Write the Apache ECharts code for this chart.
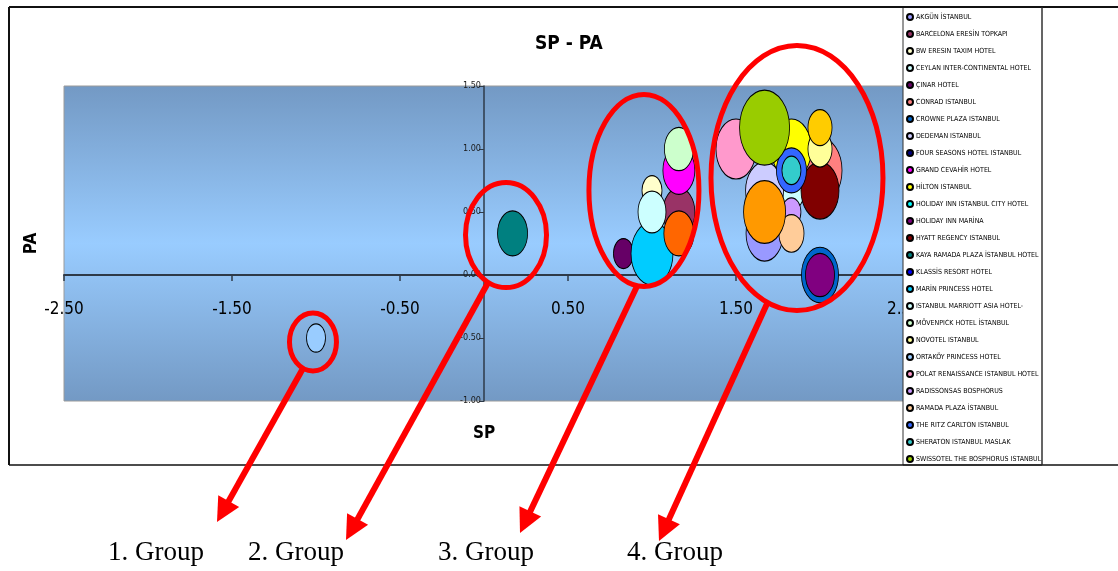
<!DOCTYPE html>
<html>
<head>
<meta charset="utf-8">
<title>SP - PA</title>
<script src="https://cdn.jsdelivr.net/npm/echarts@6/dist/echarts.min.js"></script>
<style>
  html, body { margin: 0; padding: 0; background: #fff; }
  #chart { width: 1118px; height: 571px; }
</style>
</head>
<body>
<div id="chart"></div>
<script>
// Hotels in series order (the legend lists the first 27)
const hotels = [
  'AKGÜN İSTANBUL', 'BARCELONA ERESİN TOPKAPI', 'BW ERESIN TAXIM HOTEL',
  'CEYLAN INTER-CONTINENTAL HOTEL', 'ÇINAR HOTEL', 'CONRAD ISTANBUL',
  'CROWNE PLAZA ISTANBUL', 'DEDEMAN ISTANBUL', 'FOUR SEASONS HOTEL ISTANBUL',
  'GRAND CEVAHİR HOTEL', 'HİLTON ISTANBUL', 'HOLIDAY INN ISTANBUL CITY HOTEL',
  'HOLIDAY INN MARİNA', 'HYATT REGENCY ISTANBUL', 'KAYA RAMADA PLAZA İSTANBUL HOTEL',
  'KLASSİS RESORT HOTEL', 'MARİN PRINCESS HOTEL', 'ISTANBUL MARRIOTT ASIA HOTEL-',
  'MÖVENPICK HOTEL İSTANBUL', 'NOVOTEL ISTANBUL', 'ORTAKÖY PRINCESS HOTEL',
  'POLAT RENAISSANCE ISTANBUL HOTEL', 'RADISSONSAS BOSPHORUS', 'RAMADA PLAZA İSTANBUL',
  'THE RITZ CARLTON ISTANBUL', 'SHERATON ISTANBUL MASLAK', 'SWISSOTEL THE BOSPHORUS ISTANBUL',
  'HOTEL 28', 'HOTEL 29', 'HOTEL 30'
];
const legendCount = 27;

// SP (x), PA (y) and bubble size per hotel
const spValues = [
  1.67, 1.16, 1.00, 1.83, 0.83, 2.00, 2.00, 1.67, 1.67, 1.16,
  1.83, 1.67, 2.00, 2.00, 0.17, 1.67, 1.00, 1.00, 1.16, 2.00,
  -1.00, 1.50, 1.83, 1.83, 1.83, 1.83, 1.67, 2.00, 1.67, 1.16
];
const paValues = [
  0.33, 0.50, 0.67, 0.67, 0.17, 0.83, 0.00, 0.67, 1.17, 0.83,
  1.00, 1.17, 0.00, 0.67, 0.33, 1.17, 0.17, 0.50, 1.00, 1.00,
  -0.50, 1.00, 0.50, 0.33, 0.83, 0.83, 1.17, 1.17, 0.50, 0.33
];
const bubbleSizes = [
  13.7, 10.2, 4.0, 6.8, 4.0, 19.4, 13.7, 14.4, 4.0, 10.2,
  16.0, 3.2, 8.4, 14.4, 9.0, 4.0, 17.6, 7.8, 8.4, 5.8,
  3.6, 16.0, 3.6, 6.3, 9.0, 3.6, 25.0, 5.8, 17.6, 9.0
];

// Axis ticks
const xTickValues = [-2.5, -1.5, -0.5, 0.5, 1.5, 2.5];
const xMin = -2.5, xMax = 2.5;
const yMin = -1, yMax = 1.5, yStep = 0.5;

// Group annotations: ellipse centre in SP/PA units, label text
const groupLabels = ['1. Group', '2. Group', '3. Group', '4. Group'];
const groupCentersSP = [-1.018, 0.131, 0.952, 1.863];
const groupCentersPA = [-0.532, 0.317, 0.671, 0.770];

// ---- styling ----
const palette = [
  '#9999FF', '#993366', '#FFFFCC', '#CCFFFF', '#660066', '#FF8080', '#0066CC', '#CCCCFF',
  '#000080', '#FF00FF', '#FFFF00', '#00FFFF', '#800080', '#800000', '#008080', '#0000FF',
  '#00CCFF', '#CCFFFF', '#CCFFCC', '#FFFF99', '#99CCFF', '#FF99CC', '#CC99FF', '#FFCC99',
  '#3366FF', '#33CCCC', '#99CC00', '#FFCC00', '#FF9900', '#FF6600'
];
const NARROW = "'Liberation Sans Narrow', 'Arial Narrow', 'DejaVu Sans Condensed', sans-serif";
const SERIF = "'Liberation Serif', 'Times New Roman', serif";
const bubbleScale = 10;    // px of width per sqrt(size)
const bubbleAspect = 1.5;  // bubbles are drawn taller than wide

const gridBox = { left: 64, top: 86, width: 840, height: 315 };

const groupShapes = [
  { rx: 23.5, ry: 29, start: 115, tip: [217, 522], labelX: 108 },
  { rx: 40.5, ry: 52.5, start: 116, tip: [346, 540], labelX: 248 },
  { rx: 55, ry: 96, start: 97, tip: [520, 533], labelX: 438 },
  { rx: 86, ry: 132.5, start: 110, tip: [659, 541], labelX: 627 }
];

const chart = echarts.init(document.getElementById('chart'), null, { renderer: 'canvas' });

const series = hotels.map((name, i) => ({
  name: name,
  type: 'scatter',
  data: [[spValues[i], paValues[i], bubbleSizes[i]]],
  symbol: 'circle',
  symbolSize: function (v) {
    const d = Math.sqrt(v[2]) * bubbleScale;
    return [d, d * bubbleAspect];
  },
  itemStyle: { color: palette[i], borderColor: '#000', borderWidth: 1, opacity: 1 },
  emphasis: { disabled: true },
  silent: true,
  z: 2
}));

// The axes cross at (0, 0): move each axis from its grid edge onto the zero line
const xAxisOffset = -gridBox.height * (0 - yMin) / (yMax - yMin);
const yAxisOffset = -gridBox.width * (0 - xMin) / (xMax - xMin);

chart.setOption({
  animation: false,
  backgroundColor: '#fff',
  title: {
    text: 'SP - PA',
    left: 530,
    top: 30,
    textStyle: { fontFamily: NARROW, fontSize: 19, fontWeight: 'bold', color: '#000' }
  },
  legend: {
    data: hotels.slice(0, legendCount),
    orient: 'vertical',
    left: 906,
    top: 13,
    z: 6,
    icon: 'circle',
    itemWidth: 6,
    itemHeight: 6,
    itemGap: 9,
    selectedMode: false,
    padding: 0,
    textStyle: { fontFamily: NARROW, fontSize: 7, color: '#000', lineHeight: 6, padding: [0, 0, 0, -2] }
  },
  grid: Object.assign({
    containLabel: false,
    outerBoundsMode: 'none',
    show: true,
    borderColor: '#9a9a9a',
    borderWidth: 1,
    backgroundColor: {
      type: 'linear', x: 0, y: 0, x2: 0, y2: 1,
      colorStops: [
        { offset: 0, color: '#7399C4' },
        { offset: 0.5, color: '#99CCFF' },
        { offset: 1, color: '#7399C4' }
      ]
    }
  }, gridBox),
  xAxis: {
    type: 'value',
    min: xMin, max: xMax,
    position: 'bottom',
    offset: xAxisOffset,
    name: 'SP',
    nameLocation: 'middle',
    nameGap: 150,
    nameTextStyle: { fontFamily: NARROW, fontSize: 17, fontWeight: 'bold', color: '#000' },
    axisLine: { onZero: false, lineStyle: { color: '#2e3a48', width: 2 } },
    axisTick: { show: true, customValues: xTickValues, length: 6, lineStyle: { color: '#2e3a48', width: 1.5 } },
    axisLabel: {
      customValues: xTickValues,
      formatter: v => v.toFixed(2),
      fontFamily: NARROW, fontSize: 17, color: '#000', margin: 26
    },
    splitLine: { show: false }
  },
  yAxis: {
    type: 'value',
    min: yMin, max: yMax, interval: yStep,
    position: 'left',
    offset: yAxisOffset,
    name: 'PA',
    nameLocation: 'middle',
    nameGap: 444,
    nameRotate: 90,
    nameTextStyle: { fontFamily: NARROW, fontSize: 17, fontWeight: 'bold', color: '#000' },
    axisLine: { onZero: false, lineStyle: { color: '#2e3a48', width: 1.5 } },
    axisTick: { show: true, length: 5, lineStyle: { color: '#2e3a48' } },
    axisLabel: { formatter: v => v.toFixed(2), fontFamily: NARROW, fontSize: 9, color: '#1a1a1a', margin: 3 },
    splitLine: { show: false }
  },
  series: series
});

// Frame, legend box and group annotations
function drawExtras() {
  const els = [
    { type: 'rect', shape: { x: 903, y: 7, width: 139, height: 458 },
      style: { fill: '#fff', stroke: '#333', lineWidth: 1 }, z: 3, silent: true },
    { type: 'line', shape: { x1: 9, y1: 7, x2: 1118, y2: 7 }, style: { stroke: '#111', lineWidth: 2 }, z: 4, silent: true },
    { type: 'line', shape: { x1: 9, y1: 7, x2: 9, y2: 465 }, style: { stroke: '#111', lineWidth: 2 }, z: 4, silent: true },
    { type: 'line', shape: { x1: 9, y1: 465, x2: 1118, y2: 465 }, style: { stroke: '#111', lineWidth: 1.5 }, z: 4, silent: true },
    { type: 'line', shape: { x1: 1042, y1: 7, x2: 1042, y2: 465 }, style: { stroke: '#333', lineWidth: 1 }, z: 4, silent: true }
  ];
  groupShapes.forEach((g, i) => {
    const c = chart.convertToPixel({ gridIndex: 0 }, [groupCentersSP[i], groupCentersPA[i]]);
    els.push({
      type: 'ellipse',
      shape: { cx: c[0], cy: c[1], rx: g.rx, ry: g.ry },
      style: { fill: 'none', stroke: '#FF0000', lineWidth: 5 },
      z: 10, silent: true
    });
    const t = g.start * Math.PI / 180;
    const sx = c[0] + g.rx * Math.cos(t), sy = c[1] + g.ry * Math.sin(t);
    const tx = g.tip[0], ty = g.tip[1];
    const len = Math.hypot(tx - sx, ty - sy);
    const ux = (tx - sx) / len, uy = (ty - sy) / len;
    const headLen = 24, headHalf = 12;
    const bx = tx - ux * headLen, by = ty - uy * headLen;
    els.push({
      type: 'line', shape: { x1: sx, y1: sy, x2: bx + ux * 2, y2: by + uy * 2 },
      style: { stroke: '#FF0000', lineWidth: 6 }, z: 10, silent: true
    });
    els.push({
      type: 'polygon',
      shape: { points: [[tx, ty], [bx - uy * headHalf, by + ux * headHalf], [bx + uy * headHalf, by - ux * headHalf]] },
      style: { fill: '#FF0000' }, z: 10, silent: true
    });
    els.push({
      type: 'text',
      style: { text: groupLabels[i], x: g.labelX, y: 553, font: '27px ' + SERIF, fill: '#000', textVerticalAlign: 'middle' },
      z: 10, silent: true
    });
  });
  chart.setOption({ graphic: { elements: els } });
}
drawExtras();
</script>
</body>
</html>
